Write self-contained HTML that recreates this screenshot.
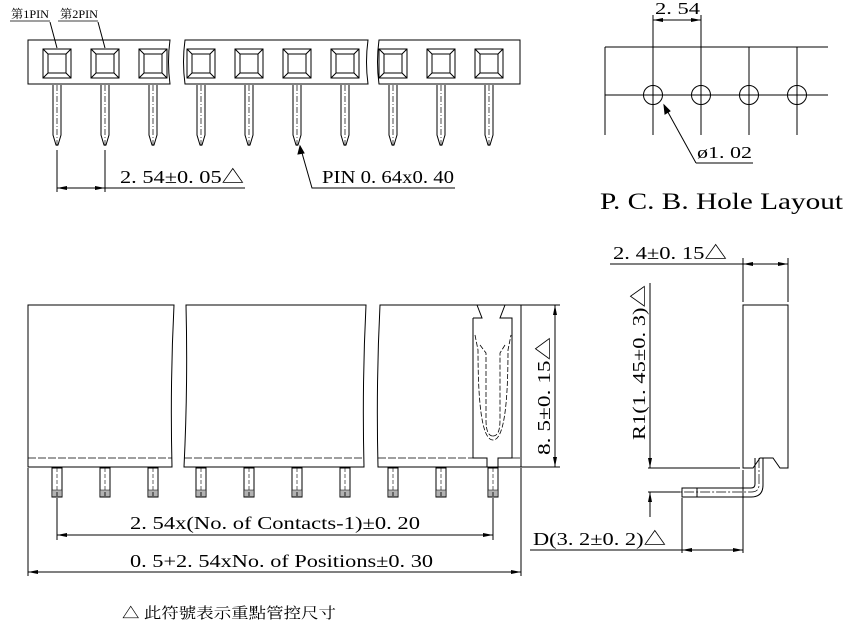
<!DOCTYPE html>
<html><head><meta charset="utf-8"><style>
html,body{margin:0;padding:0;background:#fff}
svg{display:block}
text{font-family:"Liberation Serif","Noto Serif CJK SC",serif;fill:#000}
</style></head><body>
<svg width="857" height="636" viewBox="0 0 857 636" xmlns="http://www.w3.org/2000/svg">
<defs>
<marker id="a" viewBox="0 0 10 6" refX="10" refY="3" markerWidth="10" markerHeight="6" orient="auto-start-reverse" markerUnits="userSpaceOnUse"><path d="M0,1 L10,3 L0,5 Z" fill="#000"/></marker>
<g id="sq" fill="none" stroke="#000" stroke-width="1">
<rect x="-14" y="49" width="28" height="29"/>
<rect x="-9" y="54" width="18" height="19"/>
<path d="M-14,49 L-9,54 M14,49 L9,54 M-14,78 L-9,73 M14,78 L9,73"/>
<path d="M-4,85 V135 L-1,145 H1 L4,135 V85"/>
<path d="M0,85 V147" stroke-dasharray="6,2,1,2" stroke-width="0.7"/>
</g>
<g id="fp" fill="none" stroke="#000" stroke-width="1">
<rect x="-5" y="468" width="10" height="29"/>
<path d="M0,468 V497" stroke-dasharray="4,2" stroke-width="0.6"/>
<path d="M-3,490 V497 M-1,490 V497 M1,490 V497 M3,490 V497 M-5,490 H5" stroke-width="0.6"/>
</g>
</defs>
<g fill="none" stroke="#000" stroke-width="1">
<path d="M28,40 H170 Q167,62 170,84 H28 Z"/>
<path d="M185,40 H368 Q365,62 368,84 H185 Q182,62 185,40 Z"/>
<path d="M379,40 H520 V84 H379 Q376,62 379,40 Z"/>
<path d="M50,22 L57,48 M98,22 L105,48"/>
<path d="M10,21 H50 M58,21 H98" stroke-width="0.8"/>
</g>
<use href="#sq" x="57"/><use href="#sq" x="105"/><use href="#sq" x="153"/>
<use href="#sq" x="201"/><use href="#sq" x="249"/><use href="#sq" x="297"/><use href="#sq" x="345"/>
<use href="#sq" x="393"/><use href="#sq" x="441"/><use href="#sq" x="489"/>
<text x="11" y="18" font-size="12" textLength="38" lengthAdjust="spacingAndGlyphs">第1PIN</text>
<text x="60" y="18" font-size="12" textLength="38" lengthAdjust="spacingAndGlyphs">第2PIN</text>
<g fill="none" stroke="#000" stroke-width="1">
<path d="M57,150 V192 M105,150 V192"/>
<path d="M57,188 H105" marker-start="url(#a)" marker-end="url(#a)"/>
<path d="M105,188 H245"/>
<path d="M300,146 L312,188 H455"/>
<path d="M300,146 l-2,8 l6,-1 z" fill="#000"/>
</g>
<text x="120" y="183" font-size="18" textLength="124" lengthAdjust="spacingAndGlyphs">2. 54±0. 05△</text>
<text x="322" y="183" font-size="18" textLength="132" lengthAdjust="spacingAndGlyphs">PIN 0. 64x0. 40</text>

<g fill="none" stroke="#000" stroke-width="1">
<path d="M605,47 H828 M605,95 H828"/>
<path d="M605,47 V135 M749,47 V135 M797,47 V135 M653,15 V135 M701,15 V135"/>
<circle cx="653" cy="95" r="9.5"/><circle cx="701" cy="95" r="9.5"/>
<circle cx="749" cy="95" r="9.5"/><circle cx="797" cy="95" r="9.5"/>
<path d="M653,20 H701" marker-start="url(#a)" marker-end="url(#a)"/>
<path d="M696,163 L664,105"/>
<path d="M664,105 l1,9 l5,-3 z" fill="#000"/>
<path d="M696,163 H753"/>
</g>
<text x="655" y="14" font-size="17" textLength="45" lengthAdjust="spacingAndGlyphs">2. 54</text>
<text x="697" y="158" font-size="17" textLength="55" lengthAdjust="spacingAndGlyphs">ø1. 02</text>
<text x="600" y="209" font-size="23" textLength="243" lengthAdjust="spacingAndGlyphs">P. C. B.  Hole Layout</text>

<g fill="none" stroke="#000" stroke-width="1">
<path d="M28,305 H174 Q170,385 172,467 H28 Z"/>
<path d="M186,305 H366 Q362,385 364,467 H184 Q188,385 186,305 Z"/>
<path d="M380,305 H521 V467 H378 Q376,385 380,305 Z"/>
<path d="M28,458 H172 M184,458 H364" stroke-dasharray="8,2" stroke-width="0.8"/>
<path d="M378,458 H473 M512,458 H521" stroke-dasharray="8,2" stroke-width="0.8"/>
<path d="M473,318 H482 L477,305 M505,305 L500,318 H512 V458 H498 V467 M487,467 V458 H473 V318"/>
<path d="M475,335 L478,350 Q478,440 493,440 Q508,440 508,350 L511,335 M480,345 L486,353 V420 Q486,436 493,436 M505,345 L500,353 V420 Q500,436 493,436" stroke-dasharray="5,2" stroke-width="0.8"/>
</g>
<use href="#fp" x="57"/><use href="#fp" x="105"/><use href="#fp" x="153"/>
<use href="#fp" x="201"/><use href="#fp" x="249"/><use href="#fp" x="297"/><use href="#fp" x="345"/>
<use href="#fp" x="393"/><use href="#fp" x="441"/><use href="#fp" x="493"/>
<g fill="none" stroke="#000" stroke-width="1">
<path d="M57,498 V540 M493,498 V540"/>
<path d="M57,535 H493" marker-start="url(#a)" marker-end="url(#a)"/>
<path d="M28,468 V576 M521,468 V576"/>
<path d="M28,572 H521" marker-start="url(#a)" marker-end="url(#a)"/>
<path d="M521,305 H560 M521,467 H560"/>
<path d="M555,305 V467" marker-start="url(#a)" marker-end="url(#a)"/>
</g>
<text x="130" y="529" font-size="18" textLength="290" lengthAdjust="spacingAndGlyphs">2. 54x(No. of Contacts-1)±0. 20</text>
<text x="130" y="567" font-size="18" textLength="303" lengthAdjust="spacingAndGlyphs">0. 5+2. 54xNo. of Positions±0. 30</text>
<text transform="translate(550,455) rotate(-90)" font-size="18" textLength="118" lengthAdjust="spacingAndGlyphs">8. 5±0. 15△</text>

<g fill="none" stroke="#000" stroke-width="1">
<path d="M743,305 H788 V468 H780 L773,458 H760 L753,468 H743 Z"/>
<path d="M763,458 V485 Q763,497 751,497 H682 V488 H751 Q755,488 755,484 V458"/>
<path d="M759,458 V485 Q759,492 751,492 H678" stroke-dasharray="10,2,2,2" stroke-width="0.7"/>
<path d="M697,488 V497"/>
<path d="M610,264 H788"/>
<path d="M743,264 H788" marker-start="url(#a)" marker-end="url(#a)"/>
<path d="M743,258 V302 M788,258 V302"/>
<path d="M648,468 H740 M648,492 H680"/>
<path d="M650,283 V468" marker-end="url(#a)"/>
<path d="M650,517 V492" marker-end="url(#a)"/>
<path d="M682,498 V553 M743,470 V553"/>
<path d="M530,550 H682"/>
<path d="M682,550 H743" marker-start="url(#a)" marker-end="url(#a)"/>
</g>
<text x="613" y="259" font-size="18" textLength="114" lengthAdjust="spacingAndGlyphs">2. 4±0. 15△</text>
<text transform="translate(645,440) rotate(-90)" font-size="18" textLength="155" lengthAdjust="spacingAndGlyphs">R1(1. 45±0. 3)△</text>
<text x="533" y="545" font-size="18" textLength="133" lengthAdjust="spacingAndGlyphs">D(3. 2±0. 2)△</text>

<text x="122" y="618" font-size="15" font-family="Liberation Sans,Noto Sans CJK TC,sans-serif" textLength="214" lengthAdjust="spacingAndGlyphs">△ 此符號表示重點管控尺寸</text>
</svg>
</body></html>
